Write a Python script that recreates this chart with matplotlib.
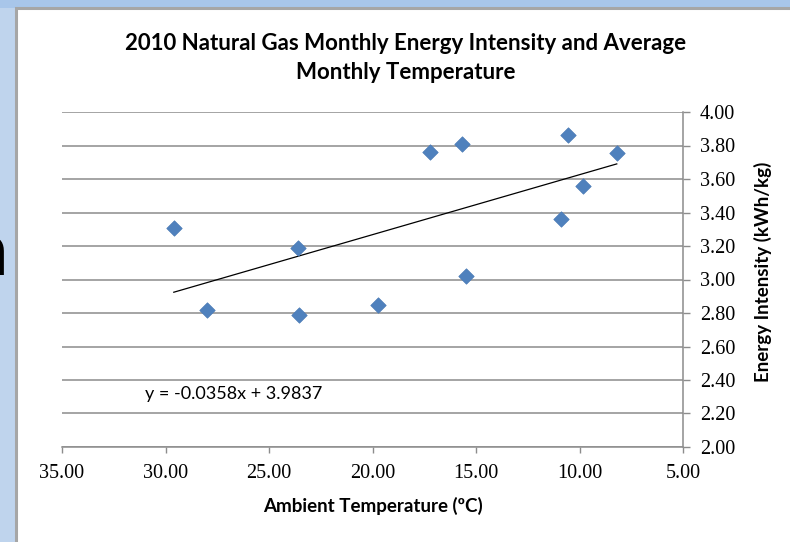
import matplotlib
matplotlib.use("Agg")
import matplotlib.pyplot as plt
from matplotlib.patches import Rectangle
import numpy as np

# Data
temperature = [29.6, 28.0, 23.6, 23.55, 19.75, 17.2, 15.7, 15.5, 10.9, 10.55, 9.85, 8.2]
intensity = [3.31, 2.82, 3.19, 2.79, 2.85, 3.76, 3.81, 3.02, 3.36, 3.86, 3.56, 3.755]
trend_slope = -0.0358
trend_intercept = 3.9837
x_ticks = [35, 30, 25, 20, 15, 10, 5]
y_ticks = [2.0, 2.2, 2.4, 2.6, 2.8, 3.0, 3.2, 3.4, 3.6, 3.8, 4.0]

title = "2010 Natural Gas Monthly Energy Intensity and Average\nMonthly Temperature"
xlabel = "Ambient Temperature (ºC)"
ylabel = "Energy Intensity (kWh/kg)"
equation = "y = -0.0358x + 3.9837"

W, H = 790, 542
fig = plt.figure(figsize=(W / 100, H / 100), dpi=100)
fig.patch.set_facecolor("#bfd4ed")

# Slide background strips and white chart frame
fig.patches.append(Rectangle((0, 1 - 8 / H), 1, 8 / H, transform=fig.transFigure,
                             facecolor="#a8c6ea", edgecolor="none", zorder=0))
fig.patches.append(Rectangle((16 / W, -0.05), 1.05, 1 - 8 / H + 0.05, transform=fig.transFigure,
                             facecolor="white", edgecolor="#a6a6a6", linewidth=2.2, zorder=1))
# Partially visible slide letter at the left edge
fig.text(-33 / W, 1 - 275 / H, "n", fontsize=54, color="black", family="Lato",
         va="baseline", ha="left", zorder=0.5)

ax = fig.add_axes([62 / W, 1 - 447 / H, (683 - 62) / W, (447 - 112) / H])
ax.set_facecolor("white")
ax.set_zorder(3)

ax.scatter(temperature, intensity, marker="D", s=62, color="#4f81bd",
           edgecolors="#4a7ab5", linewidths=0.5, zorder=4)

tx = np.array([max(temperature), min(temperature)])
ax.plot(tx, trend_slope * tx + trend_intercept, color="black", lw=0.9, zorder=3)

ax.set_xlim(35, 5)
ax.set_ylim(2.0, 4.0)
ax.set_xticks(x_ticks)
ax.set_xticklabels([f"{v:.2f}" for v in x_ticks])
ax.set_yticks(y_ticks)
ax.set_yticklabels([f"{v:.2f}" for v in y_ticks])

ax.yaxis.tick_right()
ax.grid(axis="y", color="#8c8c8c", lw=1.1)
ax.set_axisbelow(True)
for s in ["top", "left"]:
    ax.spines[s].set_visible(False)
for s in ["right", "bottom"]:
    ax.spines[s].set_color("#8c8c8c")
    ax.spines[s].set_linewidth(1.1)

serif = "Liberation Serif"
ax.tick_params(axis="x", direction="out", length=4.5, width=1, color="#8c8c8c",
               labelsize=14.5, pad=8)
ax.tick_params(axis="y", direction="out", length=5, width=1, color="#8c8c8c",
               labelsize=14.5, pad=7)
for lab in ax.get_xticklabels() + ax.get_yticklabels():
    lab.set_family(serif)

fig.text(373 / W, 1 - 506 / H, xlabel, fontsize=13.5, fontweight="bold", family="Lato",
         ha="center", va="center")
fig.text(763 / W, 1 - 272 / H, ylabel, fontsize=13.5, fontweight="bold", family="Lato",
         ha="center", va="center", rotation=90)

ax.text(31.0, 2.317, equation, fontsize=13, family="Lato", va="center", ha="left")

fig.text(406 / W, 1 - 58 / H, title, fontsize=16, fontweight="bold", family="Lato",
         ha="center", va="center", linespacing=1.5)

fig.savefig("out.png", dpi=100, facecolor=fig.get_facecolor())
